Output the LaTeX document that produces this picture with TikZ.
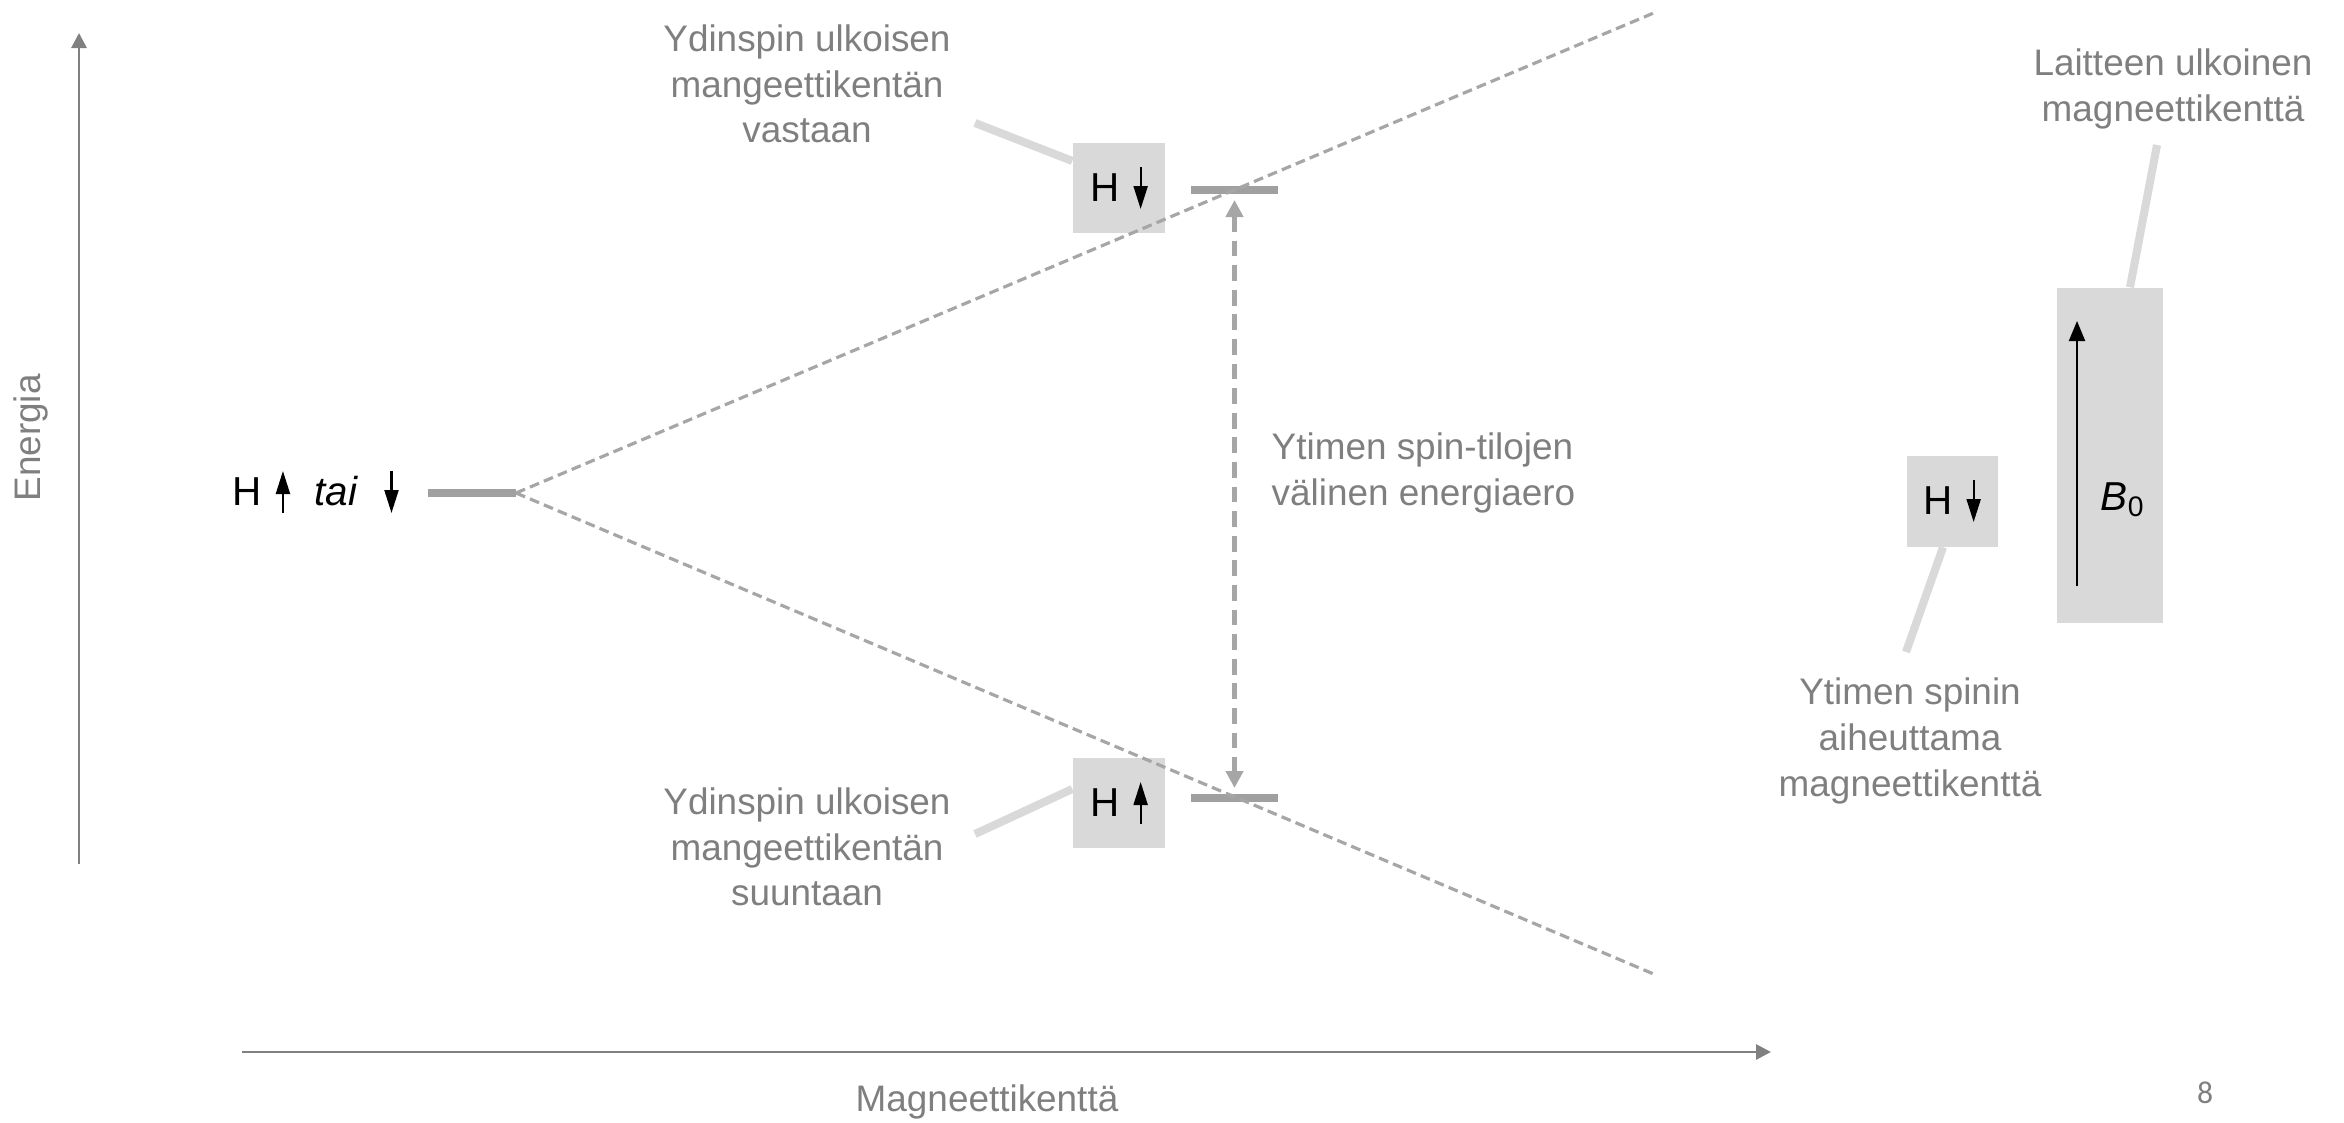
\documentclass[tikz,border=0pt]{standalone}
\usepackage{fontspec}
\setmainfont{Liberation Sans}
\newfontfamily\pagefont{Carlito}
\usetikzlibrary{arrows.meta,calc,backgrounds}
\definecolor{axisgrey}{HTML}{808080}
\definecolor{labelgrey}{HTML}{7F7F7F}
\definecolor{dashgrey}{HTML}{A6A6A6}
\definecolor{levelgrey}{HTML}{A0A0A0}
\definecolor{boxgrey}{HTML}{D9D9D9}
\newcommand{\spinup}{\tikz[baseline=0pt]\draw[-{Triangle[length=2.3mm,width=1.4mm]}, line width=0.6pt, black] (0,-0.08) -- (0,0.34);}
\newcommand{\spindown}{\tikz[baseline=0pt]\draw[-{Triangle[length=2.3mm,width=1.4mm]}, line width=0.6pt, black] (0,0.34) -- (0,-0.08);}

\begin{document}
\begin{tikzpicture}[
        axis/.style={-{Triangle[length=1.5mm,width=1.5mm]}, line width=0.8pt, draw=axisgrey},
        lbl/.style={font=\fontsize{10.5}{13}\selectfont, text=labelgrey, align=center, inner sep=0pt},
        spin/.style={fill=boxgrey, minimum width=0.92cm, minimum height=0.9cm, inner sep=0pt, font=\fontsize{11.5}{13}\selectfont},
        level/.style={line width=2.2pt, draw=levelgrey},
        split/.style={dash pattern=on 2.8pt off 1.5pt, line width=0.9pt, draw=dashgrey},
        gap/.style={{Triangle[length=1.7mm,width=1.7mm]}-{Triangle[length=1.7mm,width=1.7mm]}, dash pattern=on 4.5pt off 2.5pt, line width=1.4pt, draw=dashgrey, shorten <=1mm, shorten >=1mm},
        lead/.style={line width=2.3pt, draw=boxgrey}]
      \useasboundingbox (0,0) rectangle (23.44,-11.23);
      % axes
      \coordinate (ybot) at (0.79,-8.64);
      \coordinate (ytop) at (0.79,-0.33);
      \coordinate (xlft) at (2.42,-10.52);
      \coordinate (xrgt) at (17.71,-10.52);
      \draw[axis] (ybot) -- (ytop);
      \draw[axis] (xlft) -- (xrgt);
      \node[lbl, rotate=90] (energy) at (0.31,-4.38) {Energia};
      \node[lbl] (field) at (9.87,-11.02) {Magneettikenttä};
      \node[lbl, font=\pagefont\fontsize{9}{11}\selectfont] (page) at (22.05,-10.93) {8};
      % energy levels
      \node[inner sep=0pt, anchor=base west, font=\fontsize{11.5}{13}\selectfont] (free) at (2.32,-5.05) {H\hspace{4pt}\spinup\hspace{7pt}\textit{tai}\hspace{7.5pt}\spindown};
      \coordinate (l0a) at (4.28,-4.93);
      \coordinate (l0b) at (5.16,-4.93);
      \coordinate (lhi) at (12.345,-1.90);
      \coordinate (llo) at (12.345,-7.98);
      \coordinate (uend) at (16.56,-0.12);
      \coordinate (dend) at (16.56,-9.75);
      \draw[level] (l0a) -- (l0b);
      \draw[level] ([xshift=-4.35mm]lhi) -- ([xshift=4.35mm]lhi);
      \draw[level] ([xshift=-4.35mm]llo) -- ([xshift=4.35mm]llo);
      \draw[gap] (lhi) -- (llo);
      \node[lbl, align=left, anchor=west] (diff) at (12.71,-4.73) {Ytimen spin-tilojen\\ välinen energiaero};
      % spin states
      \node[spin] (hdn) at (11.19,-1.88) {H\hspace{4pt}\spindown};
      \node[spin] (hup) at (11.19,-8.03) {H\hspace{4pt}\spinup};
      \node[lbl] (against) at (8.07,-0.84) {Ydinspin ulkoisen\\ mangeettikentän\\ vastaan};
      \node[lbl] (along) at (8.07,-8.47) {Ydinspin ulkoisen\\ mangeettikentän\\ suuntaan};
      \coordinate (lagainst) at (9.75,-1.23);
      \coordinate (lalong) at (9.75,-8.34);
      \begin{scope}[on background layer]
        \draw[lead] (lagainst) -- ([yshift=2.7mm]hdn.west);
        \draw[lead] (lalong) -- ([yshift=1.4mm]hup.west);
      \end{scope}
      \draw[split] (l0b) -- (uend);
      \draw[split] (l0b) -- (dend);
      % magnet fields
      \node[spin, minimum width=0.91cm, minimum height=0.91cm] (hspin) at (19.52,-5.01) {H\hspace{4pt}\spindown};
      \node[spin, minimum width=1.06cm, minimum height=3.35cm] (bfield) at (21.10,-4.555) {};
      \coordinate (bbot) at (20.77,-5.86);
      \coordinate (btop) at (20.77,-3.21);
      \draw[-{Triangle[length=2mm,width=1.6mm]}, line width=0.6pt] (bbot) -- (btop);
      \node[inner sep=0pt, font=\fontsize{11.5}{13}\selectfont] (bzero) at (21.23,-5.00) {\textit{B}\textsubscript{0}};
      \node[lbl] (device) at (21.73,-0.89) {Laitteen ulkoinen\\ magneettikenttä};
      \node[lbl] (nucleus) at (19.10,-7.41) {Ytimen spinin\\ aiheuttama\\ magneettikenttä};
      \coordinate (ldevice) at (21.57,-1.45);
      \coordinate (lnucleus) at (19.06,-6.52);
      \begin{scope}[on background layer]
        \draw[lead] (ldevice) -- ([xshift=2mm]bfield.north);
        \draw[lead] (lnucleus) -- ([xshift=-0.9mm]hspin.south);
      \end{scope}
    \end{tikzpicture}
\end{document}
